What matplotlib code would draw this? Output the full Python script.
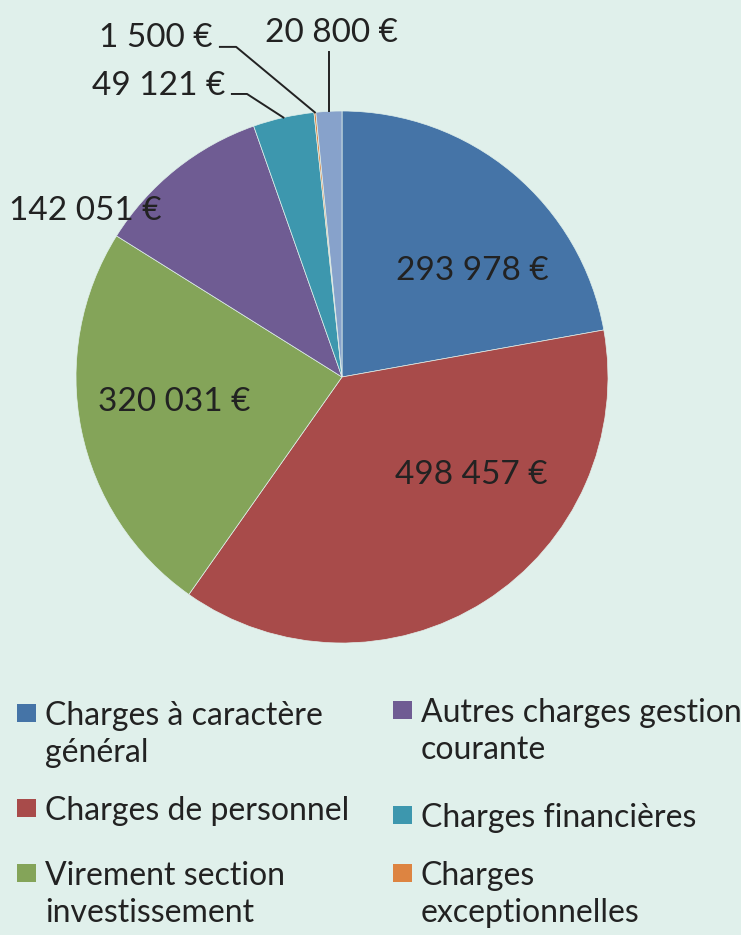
import numpy as np
import matplotlib.pyplot as plt
from matplotlib.patches import Rectangle

plt.rcParams['font.family'] = ['Lato', 'DejaVu Sans']

categories = [
    "Charges à caractère\ngénéral",
    "Charges de personnel",
    "Virement section\ninvestissement",
    "Autres charges gestion\ncourante",
    "Charges financières",
    "Charges\nexceptionnelles",
    "Autres",
]
values = [293978, 498457, 320031, 142051, 49121, 1500, 20800]
colors = ["#4574a7", "#a84b4a", "#84a459", "#6f5c93", "#3d97ae", "#dd8441", "#87a2cb"]

bg = "#e0f0eb"

fig = plt.figure(figsize=(7.41, 9.35), dpi=100, facecolor=bg)

# pie axes: center (342, 377) px, radius 266 px
W, H = 741, 935
cx, cy, r = 342, 377, 266
ax = fig.add_axes([(cx - r) / W, (H - cy - r) / H, 2 * r / W, 2 * r / H])
ax.set_facecolor(bg)

wedges, _ = ax.pie(values, colors=colors, startangle=90, counterclock=False,
                   radius=1, wedgeprops=dict(linewidth=0.5, edgecolor=bg))
ax.set_xlim(-1, 1)
ax.set_ylim(-1, 1)


def fmt(v):
    return f"{v:,}".replace(",", " ") + " €"


# label placement (axes data units)
inside_pos = {0: (0.49, 0.40), 1: (0.485, -0.37), 2: (-0.63, -0.095), 3: (-0.965, 0.625)}
for i, (x, y) in inside_pos.items():
    ax.text(x, y, fmt(values[i]), ha="center", va="center", fontsize=24,
            color="#222222", clip_on=False)

# small slices with leader lines: (elbow x, elbow y, end x, text x, text y, ha)
outside = {
    4: (-0.357, 1.064, -0.414, -0.44, 1.094, "right"),
    5: (-0.398, 1.241, -0.459, -0.485, 1.274, "right"),
    6: (None, 1.222, None, -0.04, 1.293, "center"),
}
for i, (ex, ey, endx, tx, ty, ha) in outside.items():
    w = wedges[i]
    mid = np.deg2rad((w.theta1 + w.theta2) / 2)
    px, py = np.cos(mid), np.sin(mid)
    if ex is None:
        ax.plot([px, px], [py, ey], color="#222222", lw=1.4, clip_on=False)
    else:
        ax.plot([px, ex, endx], [py, ey, ey], color="#222222", lw=1.4, clip_on=False)
    ax.text(tx, ty, fmt(values[i]), ha=ha, va="center", fontsize=24,
            color="#222222", clip_on=False)

# legend (two columns, Excel style); positions = centre of first text line, px
leg_pos = [(17, 713), (17, 808), (17, 873), (393, 710), (393, 815), (393, 873)]
line_h = 37
for i, (lx, ly) in enumerate(leg_pos):
    fig.patches.append(Rectangle((lx / W, 1 - (ly + 9) / H), 19 / W, 18 / H,
                                 transform=fig.transFigure, facecolor=colors[i],
                                 edgecolor="none"))
    for j, line in enumerate(categories[i].split("\n")):
        fig.text((lx + 28) / W, 1 - (ly + j * line_h) / H, line, ha="left",
                 va="center_baseline", fontsize=23, color="#222222")

fig.savefig("out.png", dpi=100, facecolor=bg)
